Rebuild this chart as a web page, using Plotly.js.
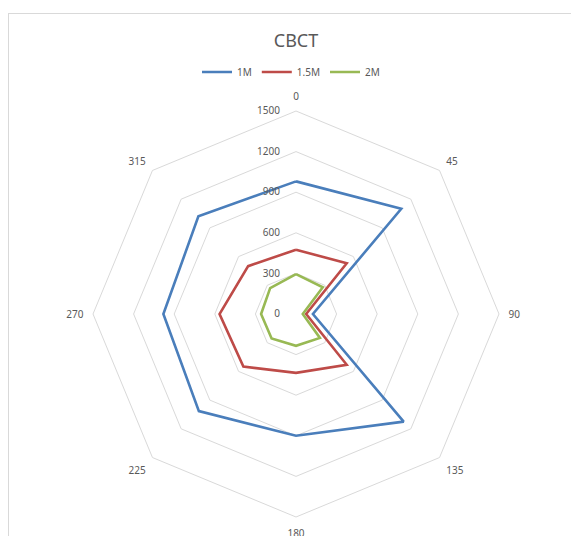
<!DOCTYPE html>
<html>
<head>
<meta charset="utf-8">
<script src="https://cdn.plot.ly/plotly-3.0.1.min.js"></script>
<style>
  html, body { margin: 0; padding: 0; background: #ffffff; }
  #wrap { position: relative; width: 571px; height: 536px; overflow: hidden; }
  #chart { width: 571px; height: 536px; }
  #frame { position: absolute; left: 8px; top: 13px; width: 600px; height: 600px;
           border: 1px solid #d9d9d9; pointer-events: none; box-sizing: border-box; }
</style>
</head>
<body>
<div id="wrap">
  <div id="chart"></div>
  <div id="frame"></div>
</div>
<script>
const angles = ['0', '45', '90', '135', '180', '225', '270', '315'];
const seriesNames = ['1M', '1.5M', '2M'];
const values1M  = [980, 1100, 125, 1125, 900, 1015, 980, 1020];
const values15M = [475, 530, 75, 530, 435, 550, 565, 500];
const values2M  = [295, 280, 50, 250, 235, 255, 258, 270];
const radialTicks = [0, 300, 600, 900, 1200, 1500];

const colors = ['#4a7ebb', '#be4b48', '#98b954'];
const allValues = [values1M, values15M, values2M];

const traces = allValues.map((vals, i) => ({
  type: 'scatterpolar',
  mode: 'lines',
  name: seriesNames[i],
  r: vals.concat([vals[0]]),
  theta: angles.concat([angles[0]]),
  line: { color: colors[i], width: 2.6 },
  hoverinfo: 'skip'
}));

const layout = {
  width: 571,
  height: 536,
  margin: { l: 0, r: 0, t: 0, b: 0 },
  paper_bgcolor: '#ffffff',
  font: { family: '"Noto Sans", "Open Sans", sans-serif', color: '#595959', size: 10 },
  title: {
    text: 'CBCT',
    x: 296 / 571, xanchor: 'center', xref: 'paper',
    y: 1 - 41 / 536, yanchor: 'middle', yref: 'container',
    font: { size: 18, color: '#595959', family: '"Noto Sans", "Open Sans", sans-serif' }
  },
  showlegend: true,
  legend: {
    orientation: 'h',
    x: 291 / 571, xanchor: 'center',
    y: 1 - 72 / 536, yanchor: 'middle',
    font: { size: 10, color: '#595959' },
    itemwidth: 30,
    tracegroupgap: 0
  },
  polar: {
    domain: { x: [93 / 571, 499 / 571], y: [19 / 536, 425 / 536] },
    bgcolor: 'rgba(0,0,0,0)',
    gridshape: 'linear',
    angularaxis: {
      type: 'category',
      categoryarray: angles,
      rotation: 90,
      direction: 'clockwise',
      showgrid: false,
      showline: true,
      linecolor: '#d9d9d9',
      linewidth: 1,
      ticks: 'outside',
      ticklen: 7,
      tickcolor: 'rgba(0,0,0,0)',
      tickfont: { size: 10, color: '#595959' }
    },
    radialaxis: {
      range: [0, 1500],
      tickvals: radialTicks,
      ticktext: radialTicks.map(String),
      angle: 90,
      side: 'counterclockwise',
      showline: false,
      ticks: 'outside',
      ticklen: 12,
      tickcolor: 'rgba(0,0,0,0)',
      showgrid: true,
      gridcolor: '#d9d9d9',
      gridwidth: 1,
      tickangle: 90,
      tickfont: { size: 10, color: '#595959' }
    }
  }
};

Plotly.newPlot('chart', traces, layout, { displayModeBar: false, staticPlot: true });
</script>
</body>
</html>
